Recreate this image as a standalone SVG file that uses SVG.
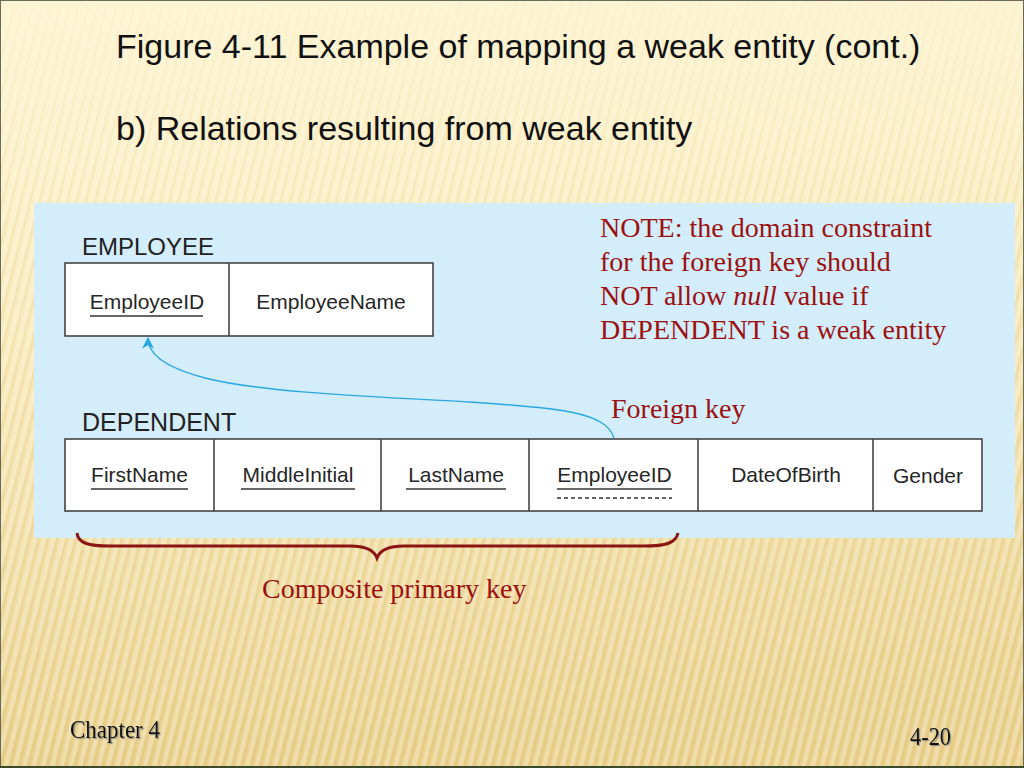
<svg xmlns="http://www.w3.org/2000/svg" width="1024" height="768" viewBox="0 0 1024 768">
<defs>
<linearGradient id="bg" x1="0" y1="0" x2="0.15" y2="1">
<stop offset="0" stop-color="#fdf4d3"/>
<stop offset="0.45" stop-color="#f7e6b2"/>
<stop offset="1" stop-color="#e9d08c"/>
</linearGradient>
<pattern id="stripes" width="9" height="40" patternUnits="userSpaceOnUse" patternTransform="rotate(14)">
<rect x="0" y="0" width="4" height="40" fill="#ffffff" opacity="0.28"/>
<rect x="5" y="0" width="2" height="40" fill="#c9a85a" opacity="0.16"/>
</pattern>
<linearGradient id="fade" x1="0" y1="0" x2="0" y2="1">
<stop offset="0" stop-color="#fdf4d3" stop-opacity="0.85"/>
<stop offset="0.3" stop-color="#fdf4d3" stop-opacity="0.3"/>
<stop offset="1" stop-color="#fdf4d3" stop-opacity="0"/>
</linearGradient>
<marker id="arrow" viewBox="0 0 10 10" refX="9" refY="5" markerWidth="12" markerHeight="12" markerUnits="userSpaceOnUse" orient="auto">
<path d="M0,0 L10,5 L0,10 L3,5 Z" fill="#29a8e0"/>
</marker>
<filter id="shadow" x="-10%" y="-20%" width="130%" height="150%">
<feDropShadow dx="1.2" dy="1.2" stdDeviation="0.6" flood-color="#777" flood-opacity="0.7"/>
</filter>
</defs>
<style>
.title{font-family:"Liberation Sans",Arial,sans-serif;font-size:34px;fill:#111}
.lbl{font-family:"Liberation Sans",Arial,sans-serif;font-size:24px;fill:#222}
.cell{font-family:"Liberation Sans",Arial,sans-serif;font-size:21px;fill:#262626;text-anchor:middle}
.box{fill:#ffffff;stroke:#444;stroke-width:1.6}
.div{stroke:#444;stroke-width:1.6}
.ul{stroke:#333;stroke-width:1.6}
.note{font-family:"Liberation Serif","Times New Roman",serif;font-size:28px;fill:#9b1010}
.foot{font-family:"Liberation Serif","Times New Roman",serif;font-size:26px;fill:#111}
</style>
<rect width="1024" height="768" fill="url(#bg)"/>
<rect width="1024" height="768" fill="url(#stripes)"/>
<rect width="1024" height="768" fill="url(#fade)"/>
<rect x="0.5" y="0.5" width="1023" height="767" fill="none" stroke="#6a6a5a" stroke-width="1"/>
<line x1="0" y1="767" x2="1024" y2="767" stroke="#3d4a2a" stroke-width="2"/>
<text class="title" x="116" y="58">Figure 4-11 Example of mapping a weak entity (cont.)</text>
<text class="title" x="116" y="140">b) Relations resulting from weak entity</text>
<rect x="34" y="203" width="981" height="335" fill="#d3edfa"/>
<g id="employee">
<text class="lbl" x="82" y="255">EMPLOYEE</text>
<rect class="box" x="65" y="263" width="368" height="73"/>
<line class="div" x1="229" y1="263" x2="229" y2="336"/>
<text class="cell" x="147" y="309">EmployeeID</text>
<line class="ul" x1="90" y1="316" x2="203" y2="316"/>
<text class="cell" x="331" y="309">EmployeeName</text>
</g>
<g id="dependent">
<text class="lbl" x="82" y="431" style="font-size:25px">DEPENDENT</text>
<rect class="box" x="65" y="439" width="917" height="72"/>
<line class="div" x1="214" y1="439" x2="214" y2="511"/>
<line class="div" x1="381" y1="439" x2="381" y2="511"/>
<line class="div" x1="529" y1="439" x2="529" y2="511"/>
<line class="div" x1="698" y1="439" x2="698" y2="511"/>
<line class="div" x1="873" y1="439" x2="873" y2="511"/>
<text class="cell" x="139.5" y="482">FirstName</text>
<line class="ul" x1="91" y1="489" x2="188" y2="489"/>
<text class="cell" x="298" y="482">MiddleInitial</text>
<line class="ul" x1="241" y1="489" x2="355" y2="489"/>
<text class="cell" x="456" y="482">LastName</text>
<line class="ul" x1="406" y1="489" x2="506" y2="489"/>
<text class="cell" x="614.5" y="482">EmployeeID</text>
<line class="ul" x1="557" y1="489" x2="672" y2="489"/>
<line x1="557" y1="498" x2="672" y2="498" stroke="#333" stroke-width="1.3" stroke-dasharray="4,3"/>
<text class="cell" x="786" y="482">DateOfBirth</text>
<text class="cell" x="928" y="483">Gender</text>
</g>
<g id="connectors">
<path d="M614,438 C606,412 560,408 470,402 C360,396 260,392 205,378 C160,366 148,352 148,338" fill="none" stroke="#29a8e0" stroke-width="1.4" marker-end="url(#arrow)"/>
<path d="M77,533 C78,543 88,546 110,546 L350,546 C366,546 374,550 377,558 C380,550 388,546 404,546 L644,546 C666,546 676,543 678,533" fill="none" stroke="#8b1414" stroke-width="3"/>
</g>
<g id="notes">
<text class="note" x="600" y="237">NOTE: the domain constraint</text>
<text class="note" x="600" y="271">for the foreign key should</text>
<text class="note" x="600" y="305">NOT allow <tspan font-style="italic">null</tspan> value if</text>
<text class="note" x="600" y="339">DEPENDENT is a weak entity</text>
<text class="note" x="611" y="418">Foreign key</text>
<text class="note" x="262" y="598">Composite primary key</text>
</g>
<text class="foot" x="70" y="738" textLength="90" lengthAdjust="spacingAndGlyphs" filter="url(#shadow)">Chapter 4</text>
<text class="foot" x="910" y="745" textLength="41" lengthAdjust="spacingAndGlyphs" filter="url(#shadow)">4-20</text>
</svg>
